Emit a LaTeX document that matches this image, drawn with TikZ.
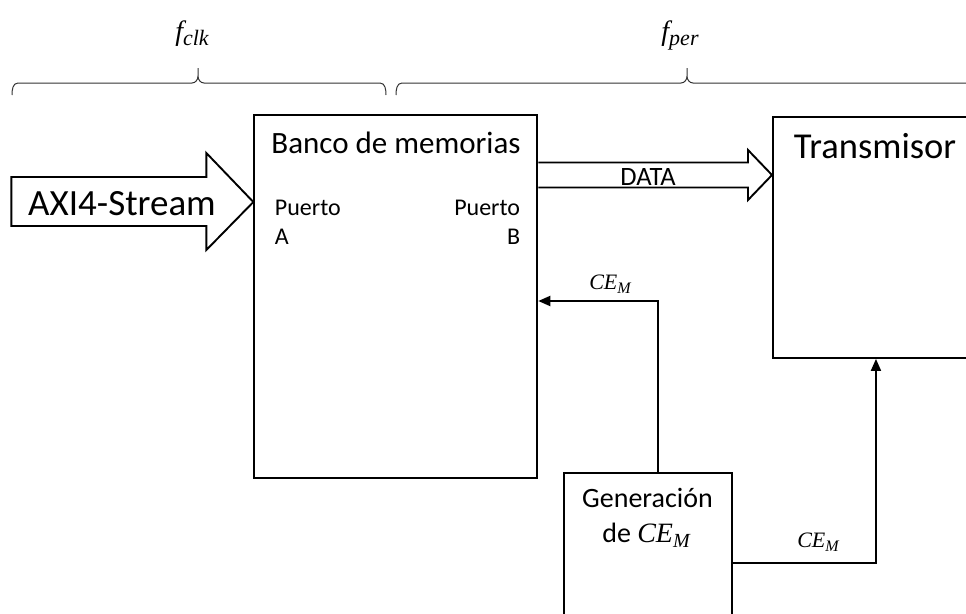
\documentclass[tikz,border=0pt]{standalone}
\usepackage{fontspec}
\setmainfont{Carlito}
\newfontfamily\symfont{Liberation Serif}
\usetikzlibrary{arrows.meta,calc}
\newcommand{\fs}[1]{\fontsize{#1}{#1}\selectfont}
% italic symbol with a subscript: size, subscript size, symbol, subscript
\newcommand{\isym}[4]{{\symfont\itshape\fs{#1}#3\raisebox{-0.2em}{\fs{#2}#4}}}
\begin{document}
\begin{tikzpicture}[x=1pt,y=-1pt,line width=1.9pt,
  box/.style={draw,rectangle,inner sep=0pt},
  sig/.style={-{Triangle[length=12pt,width=10pt]}},
  blockarrow/.style={draw,line width=1.9pt,line join=miter},
  bracepath/.style={draw,line width=1pt,black!80},
  txt/.style={inner sep=0pt,anchor=base}]
\useasboundingbox (0,0) rectangle (966,613);

% blocks
\node[box,minimum width=283pt,minimum height=363pt] (banco) at (395.8,296.5) {};
\node[box,minimum width=230pt,minimum height=241pt,anchor=north west] (tx) at (772,116) {};
\node[box,minimum width=168pt,minimum height=180pt,anchor=north west] (gen) at (563,472) {};

% block texts
\node[txt,font=\fs{31}] (bancot) at (396,153) {Banco de memorias};
\node[txt,anchor=base west,font=\fs{24}] (pa) at (274,215) {Puerto};
\node[txt,anchor=base west,font=\fs{24}] (pa2) at (274,244) {A};
\node[txt,anchor=base east,font=\fs{24}] (pb) at (521,215) {Puerto};
\node[txt,anchor=base east,font=\fs{24}] (pb2) at (521,244) {B};
\node[txt,anchor=base west,font=\fs{36.5}] (txt) at (793,158) {Transmisor};
\node[txt,font=\fs{28}] (gent) at (647.5,507) {Generación};
\node[txt,font=\fs{28}] (gent2) at (646,542) {de \isym{28}{20}{CE}{M}};

% frequency domains
\node[txt] (fclk) at (192,40) {\isym{28}{22}{f}{clk}};
\node[txt] (fper) at (680,40) {\isym{28}{22}{f}{per}};
\draw[bracepath] (12,95) to[out=90,in=180] (18,83) -- (192,83)
  to[out=0,in=-90] (198,76) -- (198,68) -- (198,76)
  to[out=-90,in=180] (204,83) -- (380,83) to[out=0,in=90] (386,95);
\draw[bracepath] (396,95) to[out=90,in=180] (402,83) -- (681,83)
  to[out=0,in=-90] (687,76) -- (687,68) -- (687,76)
  to[out=-90,in=180] (693,83) -- (970,83) to[out=0,in=90] (976,95);

% AXI4-Stream input arrow
\coordinate (axitip) at (banco.west |- 0,202);
\draw[blockarrow] ($(axitip)+(-242,-25)$) -- ($(axitip)+(-47,-25)$)
  -- ($(axitip)+(-47,-49)$) -- (axitip) -- ($(axitip)+(-47,48)$)
  -- ($(axitip)+(-47,24)$) -- ($(axitip)+(-242,24)$) -- cycle;
\node[txt,font=\fs{37}] (axi) at (122,215) {AXI4-Stream};

% DATA arrow
\coordinate (dA) at (banco.east |- 0,175);
\coordinate (dB) at (tx.west |- 0,175);
\draw[blockarrow] ($(dA)+(0,-12.5)$) -- ($(dB)+(-24,-12.5)$)
  -- ($(dB)+(-24,-25)$) -- (dB) -- ($(dB)+(-24,25)$)
  -- ($(dB)+(-24,12.5)$) -- ($(dA)+(0,12.5)$);
\node[txt,font=\fs{26.5}] (data) at (648,185) {DATA};

% clock enable signals
\draw[sig] ([xshift=10pt]gen.north) |- ([yshift=-4.5pt]banco.east);
\node[txt] (ce1) at (610,289) {\isym{22}{16}{CE}{M}};
\draw[sig] (gen.east) -| ([xshift=-12pt]tx.south);
\node[txt] (ce2) at (818,547) {\isym{22}{16}{CE}{M}};
\end{tikzpicture}
\end{document}
